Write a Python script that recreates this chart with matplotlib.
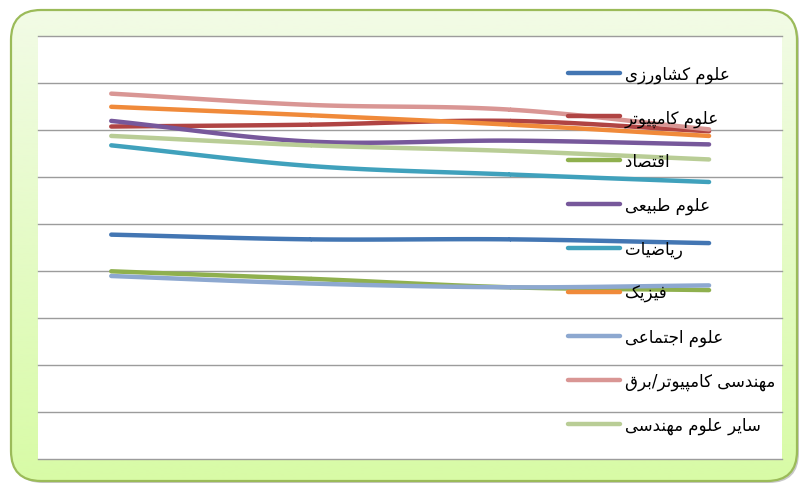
# Line chart of field shares with a Persian legend, on a rounded green card
import matplotlib.pyplot as plt
import numpy as np
from matplotlib.patches import FancyBboxPatch

# four (unlabelled) points along x
categories = [1, 2, 3, 4]

series_names = [
    'علوم کشاورزی',
    'علوم کامپیوتر',
    'اقتصاد',
    'علوم طبیعی',
    'ریاضیات',
    'فیزیک',
    'علوم اجتماعی',
    'مهندسی کامپیوتر/برق',
    'سایر علوم مهندسی',
]

agriculture = [23.9, 23.4, 23.4, 23.0]
computer_sci = [35.4, 35.6, 36.0, 34.9]
economics = [20.0, 19.2, 18.3, 18.0]
natural_sci = [36.0, 33.8, 33.9, 33.5]
mathematics = [33.4, 31.2, 30.3, 29.5]
physics = [37.5, 36.6, 35.6, 34.4]
social_sci = [19.5, 18.7, 18.3, 18.5]
comp_elec_eng = [38.9, 37.7, 37.2, 35.1]
other_eng = [34.4, 33.4, 32.8, 31.9]

colors = ['#4376B3', '#B04443', '#8FB04E', '#77589B', '#40A1BC',
          '#F08A3A', '#8DA8D0', '#D99694', '#B9CD96']

y_ticks = np.arange(0, 46, 5)


# --- minimal Arabic/Persian shaping (matplotlib has no text shaping) ---
FORMS = {
    'ا': ('\uFE8D', '\uFE8E', None, None),
    'ب': ('\uFE8F', '\uFE90', '\uFE91', '\uFE92'),
    'پ': ('\uFB56', '\uFB57', '\uFB58', '\uFB59'),
    'ت': ('\uFE95', '\uFE96', '\uFE97', '\uFE98'),
    'ج': ('\uFE9D', '\uFE9E', '\uFE9F', '\uFEA0'),
    'د': ('\uFEA9', '\uFEAA', None, None),
    'ر': ('\uFEAD', '\uFEAE', None, None),
    'ز': ('\uFEAF', '\uFEB0', None, None),
    'س': ('\uFEB1', '\uFEB2', '\uFEB3', '\uFEB4'),
    'ش': ('\uFEB5', '\uFEB6', '\uFEB7', '\uFEB8'),
    'ص': ('\uFEB9', '\uFEBA', '\uFEBB', '\uFEBC'),
    'ض': ('\uFEBD', '\uFEBE', '\uFEBF', '\uFEC0'),
    'ط': ('\uFEC1', '\uFEC2', '\uFEC3', '\uFEC4'),
    'ع': ('\uFEC9', '\uFECA', '\uFECB', '\uFECC'),
    'ف': ('\uFED1', '\uFED2', '\uFED3', '\uFED4'),
    'ق': ('\uFED5', '\uFED6', '\uFED7', '\uFED8'),
    'ک': ('\uFB8E', '\uFB8F', '\uFB90', '\uFB91'),
    'ل': ('\uFEDD', '\uFEDE', '\uFEDF', '\uFEE0'),
    'م': ('\uFEE1', '\uFEE2', '\uFEE3', '\uFEE4'),
    'ن': ('\uFEE5', '\uFEE6', '\uFEE7', '\uFEE8'),
    'ه': ('\uFEE9', '\uFEEA', '\uFEEB', '\uFEEC'),
    'و': ('\uFEED', '\uFEEE', None, None),
    'ی': ('\uFBFC', '\uFBFD', '\uFBFE', '\uFBFF'),
}


def shape(text):
    out = []
    for i, ch in enumerate(text):
        if ch not in FORMS:
            out.append(ch)
            continue
        prev = text[i - 1] if i > 0 else ''
        nxt = text[i + 1] if i + 1 < len(text) else ''
        joins_prev = prev in FORMS and FORMS[prev][2] is not None
        joins_next = FORMS[ch][2] is not None and nxt in FORMS
        iso, fin, ini, med = FORMS[ch]
        if joins_prev and joins_next:
            out.append(med)
        elif joins_prev:
            out.append(fin)
        elif joins_next:
            out.append(ini)
        else:
            out.append(iso)
    return ''.join(reversed(out))


def smooth(x, y, n=40):
    # Catmull-Rom curve through the points (like Excel's smoothed line)
    x = np.asarray(x, float)
    y = np.asarray(y, float)
    px = np.concatenate([[2 * x[0] - x[1]], x, [2 * x[-1] - x[-2]]])
    py = np.concatenate([[2 * y[0] - y[1]], y, [2 * y[-1] - y[-2]]])
    xs, ys = [], []
    t = np.linspace(0, 1, n)
    for i in range(1, len(px) - 2):
        for arr, p in ((xs, px), (ys, py)):
            p0, p1, p2, p3 = p[i - 1], p[i], p[i + 1], p[i + 2]
            arr.append(0.5 * (2 * p1 + (-p0 + p2) * t
                              + (2 * p0 - 5 * p1 + 4 * p2 - p3) * t ** 2
                              + (-p0 + 3 * p1 - 3 * p2 + p3) * t ** 3))
    return np.concatenate(xs), np.concatenate(ys)


fig = plt.figure(figsize=(8, 4.85), dpi=100)
fig.patch.set_facecolor('white')

# rounded card with a vertical green gradient
bg = fig.add_axes([0, 0, 1, 1], zorder=0)
bg.set_xlim(0, 800)
bg.set_ylim(485, 0)
bg.axis('off')
card = FancyBboxPatch((11, 11), 786, 471, boxstyle='round,pad=0,rounding_size=30',
                      facecolor='none', edgecolor='#9BBB59', linewidth=1.6, zorder=3)
shadow = FancyBboxPatch((13, 13), 786, 471, boxstyle='round,pad=0,rounding_size=30',
                        facecolor='#c8c8c8', edgecolor='none', zorder=1)
bg.add_patch(shadow)
grad = np.linspace(0, 1, 256).reshape(-1, 1)
top = np.array([0xF2, 0xFB, 0xE6]) / 255
bottom = np.array([0xD8, 0xFB, 0xA6]) / 255
img = top + (bottom - top) * grad[:, :, None]
im = bg.imshow(img, extent=(11, 797, 482, 11), aspect='auto', zorder=2)
fill_clip = FancyBboxPatch((11, 11), 786, 471, boxstyle='round,pad=0,rounding_size=30',
                           facecolor='none', edgecolor='none', transform=bg.transData)
bg.add_patch(fill_clip)
im.set_clip_path(fill_clip)
bg.add_patch(card)

ax = fig.add_axes([38.3 / 800, (485 - 460.3) / 485, (782 - 38.3) / 800, (460.3 - 37.3) / 485],
                  zorder=2)
ax.set_facecolor('white')
for s in ax.spines.values():
    s.set_visible(False)
ax.set_ylim(y_ticks[0], y_ticks[-1])
ax.set_xlim(categories[0] - 0.366, categories[-1] + 0.366)
ax.set_xticks([])
ax.set_yticks([])
for v in y_ticks:
    ax.axhline(v, color='#9c9c9c', linewidth=1.0, clip_on=False, zorder=1)

all_series = [agriculture, computer_sci, economics, natural_sci, mathematics,
              physics, social_sci, comp_elec_eng, other_eng]
handles = []
for name, vals, c in zip(series_names, all_series, colors):
    sx, sy = smooth(categories, vals)
    line, = ax.plot(sx, sy, color=c, linewidth=3.2, solid_capstyle='round', zorder=3,
                    label=shape(name))
    handles.append(line)

leg = ax.legend(handles=handles, loc='upper left', bbox_to_anchor=(560 / 800, 1 - 57 / 485),
                bbox_transform=fig.transFigure, frameon=False,
                handlelength=3.1, handletextpad=0.3, labelspacing=1.54, borderpad=0,
                prop={'family': 'DejaVu Sans', 'size': 12})
leg.set_zorder(5)

fig.savefig('out.png', dpi=100)
